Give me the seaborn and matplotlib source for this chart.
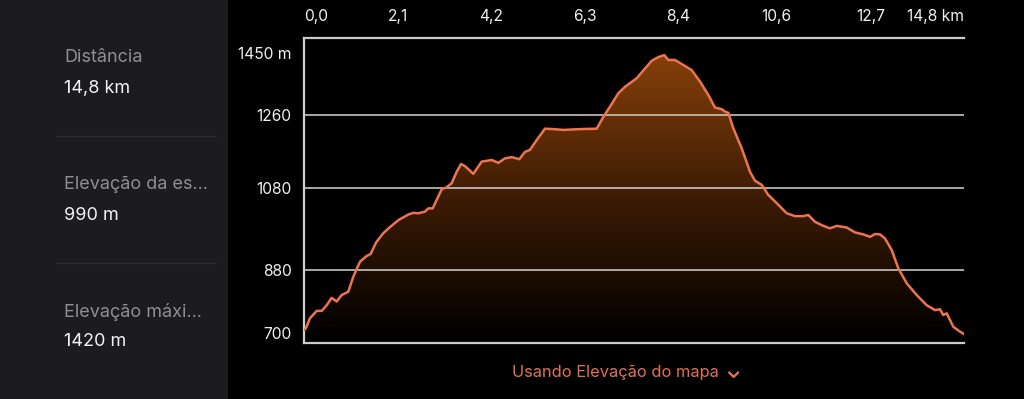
import numpy as np
import pandas as pd
import matplotlib
matplotlib.use("Agg")
import matplotlib.pyplot as plt
import seaborn as sns
from matplotlib.colors import LinearSegmentedColormap
from matplotlib.patches import PathPatch, Rectangle
from matplotlib.transforms import ScaledTranslation

# ---------------- data ----------------
distance_km = [0.0, 0.045, 0.135, 0.285, 0.397, 0.509, 0.621, 0.733, 0.845, 0.993,
               1.106, 1.256, 1.406, 1.496, 1.615, 1.778, 1.928, 2.115, 2.339, 2.451,
               2.563, 2.713, 2.787, 2.886, 2.976, 3.088, 3.200, 3.312, 3.424, 3.521,
               3.610, 3.796, 3.985, 4.209, 4.357, 4.507, 4.658, 4.828, 4.956, 5.068,
               5.218, 5.404, 5.590, 5.815, 6.189, 6.564, 6.712, 6.862, 7.048, 7.198,
               7.310, 7.460, 7.647, 7.797, 7.945, 8.079, 8.169, 8.319, 8.470, 8.694,
               8.880, 9.066, 9.216, 9.367, 9.441, 9.515, 9.627, 9.815, 10.001, 10.113,
               10.264, 10.412, 10.600, 10.824, 11.010, 11.196, 11.308, 11.458, 11.645, 11.795,
               11.945, 12.169, 12.355, 12.542, 12.692, 12.804, 12.916, 13.028, 13.178, 13.326,
               13.514, 13.739, 13.963, 14.149, 14.261, 14.335, 14.412, 14.560, 14.710, 14.800]
elevation_m = [732, 737, 761, 779, 779, 793, 811, 802, 818, 826,
               863, 900, 914, 919, 947, 970, 985, 1002, 1016, 1020,
               1019, 1023, 1031, 1031, 1052, 1078, 1083, 1093, 1121, 1140,
               1135, 1116, 1146, 1150, 1143, 1154, 1157, 1152, 1170, 1175,
               1199, 1227, 1226, 1224, 1226, 1227, 1256, 1281, 1314, 1330,
               1339, 1351, 1375, 1394, 1403, 1408, 1396, 1396, 1386, 1371,
               1343, 1310, 1279, 1275, 1269, 1266, 1228, 1179, 1121, 1099,
               1089, 1064, 1044, 1019, 1012, 1012, 1015, 998, 988, 982,
               988, 984, 972, 967, 961, 968, 967, 957, 929, 884,
               847, 818, 793, 781, 783, 769, 773, 740, 728, 722]

x_ticks = [0.0, 2.1, 4.2, 6.3, 8.4, 10.6, 12.7, 14.8]
x_tick_labels = ["0,0", "2,1", "4,2", "6,3", "8,4", "10,6", "12,7", "14,8 km"]
y_ticks = [700, 880, 1080, 1260, 1450]
y_tick_labels = ["700", "880", "1080", "1260", "1450 m"]

stat_labels = ["Distância", "Elevação da es...", "Elevação máxi..."]
stat_values = ["14,8 km", "990 m", "1420 m"]
footer_text = "Usando Elevação do mapa"

df = pd.DataFrame({"km": distance_km, "elev": elevation_m})

# ---------------- style ----------------
sns.set_theme(style="dark")
plt.rcParams["font.family"] = ["Inter", "DejaVu Sans"]
W, H = 1024, 399
fig = plt.figure(figsize=(W / 100, H / 100), dpi=100, facecolor="black")

def fx(px):
    return px / W

def fy(py):
    return 1 - py / H

# left panel
fig.patches.append(Rectangle((0, 0), fx(228), 1, transform=fig.transFigure,
                             facecolor="#1c1c1e", edgecolor="none", zorder=0))
for yy in (136, 263):
    fig.lines.append(plt.Line2D([fx(56), fx(216)], [fy(yy), fy(yy)],
                                transform=fig.transFigure, color="#2e2e30", lw=1))
label_y = [58, 185, 312]
value_y = [89, 216, 342]
for lab, val, ly, vy in zip(stat_labels, stat_values, label_y, value_y):
    fig.text(fx(64), fy(ly), lab, color="#8e8e93", fontsize=13, va="center", ha="left")
    fig.text(fx(64), fy(vy), val, color="#f2f2f2", fontsize=13, va="center", ha="left")

# chart axes
ax = fig.add_axes([fx(304), fy(343), fx(964) - fx(304), (343 - 38) / H])
ax.set_facecolor("black")

cmap = LinearSegmentedColormap.from_list("elev", ["#000000", "#3c1b04", "#86400a"])
grad = np.linspace(0, 1, 256).reshape(-1, 1)
im = ax.imshow(grad, extent=[0, 14.8, 700, 1410], origin="lower", cmap=cmap,
               aspect="auto", zorder=1, interpolation="bicubic")
poly = ax.fill_between(df["km"], df["elev"], 700, facecolor="none", edgecolor="none")
patch = PathPatch(poly.get_paths()[0], transform=ax.transData,
                  facecolor="none", edgecolor="none")
ax.add_patch(patch)
im.set_clip_path(patch)

sns.lineplot(data=df, x="km", y="elev", ax=ax, color="#ec7550", lw=1.8, zorder=4,
             sort=False)

ax.set_xlim(0, 14.8)
ax.set_ylim(700, 1450)
ax.set_xlabel("")
ax.set_ylabel("")

ax.set_axisbelow(False)
ax.set_yticks(y_ticks)
ax.set_yticklabels(y_tick_labels)
ax.yaxis.grid(True, color="#c8c4c0", lw=1.2, zorder=3)
ax.xaxis.grid(False)

ax.xaxis.tick_top()
ax.set_xticks(x_ticks)
ax.set_xticklabels(x_tick_labels)
ax.tick_params(axis="x", length=0, pad=10, labelsize=11.2, colors="#f0f0f0")
ax.tick_params(axis="y", length=0, pad=9, labelsize=11.2, colors="#f0f0f0")

xl = ax.get_xticklabels()
xl[0].set_ha("left")
xl[-1].set_ha("right")
yl = ax.get_yticklabels()
yl[-1].set_transform(yl[-1].get_transform() + ScaledTranslation(0, -0.15, fig.dpi_scale_trans))
yl[0].set_transform(yl[0].get_transform() + ScaledTranslation(0, 0.10, fig.dpi_scale_trans))

for side in ("top", "bottom", "left"):
    ax.spines[side].set_visible(True)
    ax.spines[side].set_color("#cfcfcf")
    ax.spines[side].set_linewidth(1.6)
ax.spines["right"].set_visible(False)

# footer
fig.text(fx(512), fy(372), footer_text, color="#e27251", fontsize=11.8,
         ha="left", va="center")
fig.text(fx(733), fy(370), "⌄", color="#e27251", fontsize=20,
         ha="center", va="center", family=["DejaVu Sans"])

fig.savefig("out.png", dpi=100, facecolor="black")
